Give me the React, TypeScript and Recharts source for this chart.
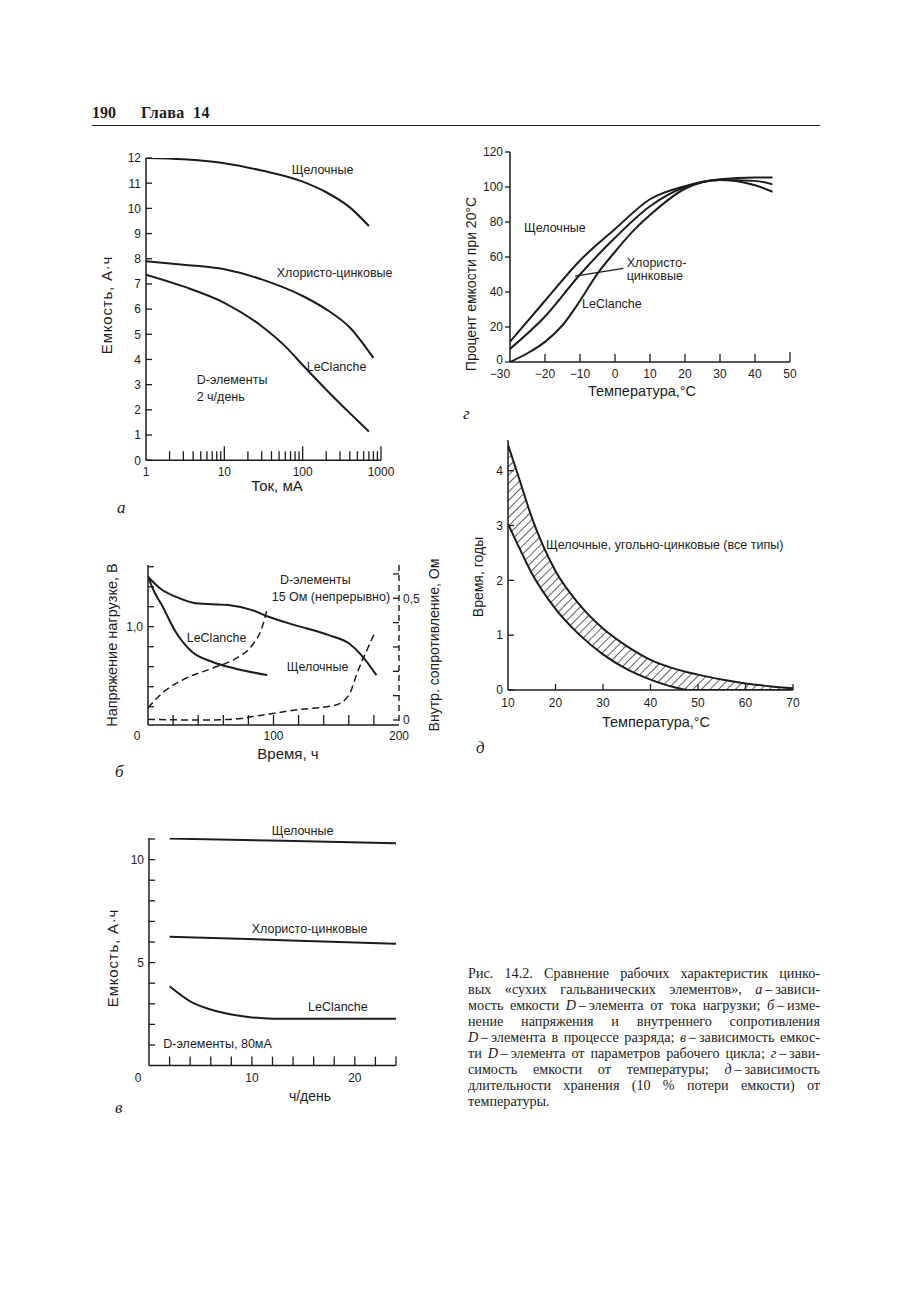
import React from "react";
import {
  LineChart,
  ComposedChart,
  Line,
  Area,
  XAxis,
  YAxis,
  ReferenceLine,
} from "recharts";

const INK = "#1c1c1c";
const SANS = "'Liberation Sans', Arial, sans-serif";
const SERIF = "'Liberation Serif', 'Times New Roman', serif";

// а — емкость D-элемента от тока нагрузки (лог. шкала)
const aCurrentAlk = [1, 3, 10, 30, 100, 200, 400, 700];
const aCapAlk = [12, 11.95, 11.79, 11.5, 11.06, 10.64, 10.04, 9.3];
const aCurrentZnCl = [1, 3, 10, 30, 100, 200, 400, 800];
const aCapZnCl = [7.9, 7.76, 7.58, 7.18, 6.52, 5.99, 5.27, 4.06];
const aCurrentLec = [1, 3, 10, 30, 60, 100, 200, 400, 700];
const aCapLec = [7.37, 6.9, 6.25, 5.32, 4.52, 3.78, 2.8, 1.87, 1.14];
const aTicksX = [1, 2, 3, 4, 5, 6, 7, 8, 9, 10, 20, 30, 40, 50, 60, 70, 80, 90, 100, 200, 300, 400, 500, 600, 700, 800, 900, 1000];
const aLabelsX = [1, 10, 100, 1000];
const aTicksY = [0, 1, 2, 3, 4, 5, 6, 7, 8, 9, 10, 11, 12];

// б — напряжение и внутреннее сопротивление при разряде
const bTimeAlkV = [0, 10, 22, 38, 64, 83, 96, 117, 144, 160, 170, 182];
const bVoltAlk = [1.25, 1.19, 1.15, 1.117, 1.108, 1.083, 1.05, 1.008, 0.958, 0.917, 0.858, 0.758];
const bTimeLecV = [0, 5, 11, 22, 35, 51, 70, 95];
const bVoltLec = [1.25, 1.175, 1.108, 0.975, 0.875, 0.825, 0.79, 0.758];
const bTimeLecR = [0, 11, 30, 51, 70, 83, 91, 95];
const bResLec = [0.05, 0.109, 0.171, 0.212, 0.253, 0.307, 0.382, 0.458];
const bTimeAlkR = [0, 40, 64, 91, 117, 149, 160, 167, 175, 181];
const bResAlk = [0.003, 0, 0.002, 0.02, 0.041, 0.061, 0.102, 0.198, 0.294, 0.362];
const bTicksX = [0, 20, 40, 60, 80, 100, 120, 140, 160, 180, 200];
const bLabelsX = [0, 100, 200];
const bTicksL = [0.6, 0.7, 0.8, 0.9, 1.0, 1.1, 1.2, 1.3];
const bTicksR = [0, 0.1, 0.2, 0.3, 0.4, 0.5, 0.6];

// в — емкость от параметров рабочего цикла
const vHoursAlk = [2, 13, 24];
const vCapAlk = [11.02, 10.92, 10.79];
const vHoursZnCl = [2, 13, 24];
const vCapZnCl = [6.26, 6.09, 5.91];
const vHoursLec = [2, 4, 6, 8, 10, 12, 16, 20, 24];
const vCapLec = [3.85, 3.12, 2.72, 2.48, 2.34, 2.28, 2.27, 2.27, 2.27];
const vTicksX = [0, 2, 4, 6, 8, 10, 12, 14, 16, 18, 20, 22, 24];
const vLabelsX = [0, 10, 20];
const vTicksY = [1, 2, 3, 4, 5, 6, 7, 8, 9, 10, 11];
const vLabelsY = [5, 10];

// г — емкость от температуры
const gTempAlk = [-30, -20, -10, 0, 10, 20, 30, 40, 45];
const gPctAlk = [11.6, 35, 58, 76, 93, 100.5, 104.5, 105.5, 105.5];
const gTempZnCl = [-30, -20, -10, 0, 10, 20, 30, 40, 45];
const gPctZnCl = [7.5, 26, 50, 71, 89, 100, 104, 103.5, 101.5];
const gTempLec = [-30, -25, -20, -15, -10, -5, 0, 5, 10, 20, 30, 40, 45];
const gPctLec = [0, 5, 11.5, 21, 35, 50.5, 63, 74.5, 84, 99, 104, 101, 97.3];
const gTicksX = [-30, -20, -10, 0, 10, 20, 30, 40, 50];
const gTicksY = [0, 20, 40, 60, 80, 100, 120];
const gLeader = [{ x: -11.4, y: 49.1 }, { x: 2.4, y: 53.5 }];

// д — длительность хранения от температуры
const dTemp = [10, 12, 15, 20, 25, 30, 35, 40, 45, 48, 50, 55, 60, 65, 70];
const dUpper = [4.47, 3.95, 3.15, 2.17, 1.56, 1.12, 0.8, 0.55, 0.39, 0.32, 0.28, 0.19, 0.12, 0.07, 0.03];
const dLower = [3.03, 2.66, 2.13, 1.48, 1.01, 0.65, 0.38, 0.19, 0.05, 0, 0, 0, 0, 0, 0];
const dTicksX = [10, 20, 30, 40, 50, 60, 70];
const dTicksY = [0, 1, 2, 3, 4];

const pts = (xs: number[], ys: number[]) => xs.map((x, i) => ({ x, y: ys[i] }));
const comma = (v: number) => String(v).replace(".", ",");

const YW = 40;
const MT = 10;
const XH = 30;
const MR = 20;
const frame = (pl: number, pt: number, pr: number, pb: number, rw = 0) => ({
  left: pl - YW,
  top: pt - MT,
  width: pr - pl + YW + MR + rw,
  height: pb - pt + MT + XH,
});

function XTick(props: any) {
  const { x, y, payload, len = 8, lab, shift, ly = 11 } = props;
  const v = payload.value;
  const h = typeof len === "function" ? len(v) : len;
  const text = lab ? lab(v) : String(v);
  const dx = shift ? shift(v) : 0;
  return (
    <g>
      {h > 0 && <line x1={x} x2={x} y1={y} y2={y - h} stroke={INK} strokeWidth={1.3} />}
      {text !== "" && (
        <text x={x + dx} y={y + ly} dy="0.36em" textAnchor="middle" fontSize={12} fontFamily={SANS} fill={INK}>
          {text}
        </text>
      )}
    </g>
  );
}

function YTick(props: any) {
  const { x, y, payload, len = 6, side = 1, lab, ty = 0 } = props;
  const v = payload.value;
  const text = lab ? lab(v) : String(v);
  const gap = side < 0 ? len + 2 : 5;
  const dy = typeof ty === "function" ? ty(v) : ty;
  return (
    <g>
      <line x1={x} x2={x + side * len} y1={y} y2={y} stroke={INK} strokeWidth={1.3} />
      {text !== "" && (
        <text x={x - gap} y={y + dy} dy="0.36em" textAnchor="end" fontSize={12} fontFamily={SANS} fill={INK}>
          {text}
        </text>
      )}
    </g>
  );
}

function RTick(props: any) {
  const { x, y, payload, len = 6, lab } = props;
  const v = payload.value;
  const text = lab ? lab(v) : String(v);
  return (
    <g>
      <line x1={x} x2={x - len} y1={y} y2={y} stroke={INK} strokeWidth={1.3} />
      {text !== "" && (
        <text x={x + 4} y={y} dy="0.36em" textAnchor="start" fontSize={12} fontFamily={SANS} fill={INK}>
          {text}
        </text>
      )}
    </g>
  );
}

function Txt({ x, y, children, size = 12.5, anchor = "start", rot = false, italic = false, serif = false, bold = false, spacing = 0 }: any) {
  const transform = rot
    ? "translate(-50%,-50%) rotate(-90deg)"
    : `translate(${anchor === "middle" ? "-50%" : "0"},-50%)`;
  return (
    <div
      style={{
        position: "absolute",
        left: x,
        top: y,
        transform,
        whiteSpace: "nowrap",
        fontSize: size,
        lineHeight: 1,
        fontFamily: serif ? SERIF : SANS,
        fontStyle: italic ? "italic" : "normal",
        fontWeight: bold ? "bold" : "normal",
        letterSpacing: spacing,
        color: INK,
      }}
    >
      {children}
    </div>
  );
}

const axisLine = { stroke: INK, strokeWidth: 1.5 };
const lineProps = {
  type: "monotone" as const,
  dataKey: "y",
  dot: false,
  stroke: INK,
  strokeWidth: 2,
  isAnimationActive: false,
};

function ChartA() {
  const f = frame(146, 158.3, 381, 460.5);
  return (
    <div style={{ position: "absolute", left: f.left, top: f.top }}>
      <LineChart width={f.width} height={f.height} margin={{ top: MT, right: MR, left: 0, bottom: 0 }}>
        <XAxis
          type="number"
          dataKey="x"
          scale="log"
          domain={[1, 1000]}
          allowDataOverflow
          ticks={aTicksX}
          interval={0}
          height={XH}
          axisLine={axisLine}
          tickLine={false}
          tickSize={0}
          tickMargin={0}
          tick={<XTick len={(v: number) => (v === 1 ? 0 : aLabelsX.includes(v) ? 14 : 9)} lab={(v: number) => (aLabelsX.includes(v) ? String(v) : "")} />}
        />
        <YAxis
          type="number"
          domain={[0, 12]}
          allowDataOverflow
          ticks={aTicksY}
          interval={0}
          width={YW}
          axisLine={axisLine}
          tickLine={false}
          tickSize={0}
          tickMargin={0}
          tick={<YTick len={6} />}
        />
        <Line {...lineProps} data={pts(aCurrentAlk, aCapAlk)} />
        <Line {...lineProps} data={pts(aCurrentZnCl, aCapZnCl)} />
        <Line {...lineProps} data={pts(aCurrentLec, aCapLec)} />
      </LineChart>
    </div>
  );
}

function ChartB() {
  const f = frame(147.7, 565, 398.7, 725, 40);
  return (
    <div style={{ position: "absolute", left: f.left, top: f.top }}>
      <LineChart width={f.width} height={f.height} margin={{ top: MT, right: MR, left: 0, bottom: 0 }}>
        <XAxis
          type="number"
          dataKey="x"
          domain={[0, 200]}
          allowDataOverflow
          ticks={bTicksX}
          interval={0}
          height={XH}
          axisLine={axisLine}
          tickLine={false}
          tickSize={0}
          tickMargin={0}
          tick={<XTick len={(v: number) => (v === 0 || v === 200 ? 0 : 10)} lab={(v: number) => (bLabelsX.includes(v) ? String(v) : "")} shift={(v: number) => (v === 0 ? -11 : 0)} ly={11} />}
        />
        <YAxis
          yAxisId="l"
          type="number"
          domain={[0.5085, 1.3085]}
          allowDataOverflow
          ticks={bTicksL}
          interval={0}
          width={YW}
          axisLine={axisLine}
          tickLine={false}
          tickSize={0}
          tickMargin={0}
          tick={<YTick len={6} lab={(v: number) => (v === 1 ? "1,0" : "")} />}
        />
        <YAxis
          yAxisId="r"
          orientation="right"
          type="number"
          domain={[-0.0205, 0.6368]}
          allowDataOverflow
          ticks={bTicksR}
          interval={0}
          width={40}
          axisLine={{ stroke: INK, strokeWidth: 1.4, strokeDasharray: "6 4" }}
          tickLine={false}
          tickSize={0}
          tickMargin={0}
          tick={<RTick len={6} lab={(v: number) => (v === 0 || v === 0.5 ? comma(v) : "")} />}
        />
        <Line {...lineProps} yAxisId="l" data={pts(bTimeAlkV, bVoltAlk)} />
        <Line {...lineProps} yAxisId="l" data={pts(bTimeLecV, bVoltLec)} />
        <Line {...lineProps} yAxisId="r" strokeWidth={1.5} strokeDasharray="7 4" data={pts(bTimeLecR, bResLec)} />
        <Line {...lineProps} yAxisId="r" strokeWidth={1.5} strokeDasharray="7 4" data={pts(bTimeAlkR, bResAlk)} />
      </LineChart>
    </div>
  );
}

function ChartV() {
  const f = frame(149, 838.4, 396, 1066);
  return (
    <div style={{ position: "absolute", left: f.left, top: f.top }}>
      <LineChart width={f.width} height={f.height} margin={{ top: MT, right: MR, left: 0, bottom: 0 }}>
        <XAxis
          type="number"
          dataKey="x"
          domain={[0, 24]}
          allowDataOverflow
          ticks={vTicksX}
          interval={0}
          height={XH}
          axisLine={axisLine}
          tickLine={false}
          tickSize={0}
          tickMargin={0}
          tick={<XTick len={(v: number) => (v === 0 ? 0 : 9)} lab={(v: number) => (vLabelsX.includes(v) ? String(v) : "")} shift={(v: number) => (v === 0 ? -11 : 0)} ly={12} />}
        />
        <YAxis
          type="number"
          domain={[0, 11.05]}
          allowDataOverflow
          ticks={vTicksY}
          interval={0}
          width={YW}
          axisLine={axisLine}
          tickLine={false}
          tickSize={0}
          tickMargin={0}
          tick={<YTick len={6} lab={(v: number) => (vLabelsY.includes(v) ? String(v) : "")} />}
        />
        <Line {...lineProps} data={pts(vHoursAlk, vCapAlk)} />
        <Line {...lineProps} data={pts(vHoursZnCl, vCapZnCl)} />
        <Line {...lineProps} data={pts(vHoursLec, vCapLec)} />
      </LineChart>
    </div>
  );
}

function ChartG() {
  const f = frame(510, 152, 790, 362);
  return (
    <div style={{ position: "absolute", left: f.left, top: f.top }}>
      <LineChart width={f.width} height={f.height} margin={{ top: MT, right: MR, left: 0, bottom: 0 }}>
        <XAxis
          type="number"
          dataKey="x"
          domain={[-30, 50]}
          allowDataOverflow
          ticks={gTicksX}
          interval={0}
          height={XH}
          axisLine={axisLine}
          tickLine={false}
          tickSize={0}
          tickMargin={0}
          tick={<XTick len={(v: number) => (v === -30 ? 0 : v === 50 ? 10 : 8)} lab={(v: number) => (v < 0 ? "−" + Math.abs(v) : String(v))} shift={(v: number) => (v === -30 ? -10 : 0)} ly={12} />}
        />
        <YAxis
          type="number"
          domain={[0, 120]}
          allowDataOverflow
          ticks={gTicksY}
          interval={0}
          width={YW}
          axisLine={axisLine}
          tickLine={false}
          tickSize={0}
          tickMargin={0}
          tick={<YTick len={5} side={-1} ty={(v: number) => (v === 0 ? -2 : 0)} />}
        />
        <Line {...lineProps} data={pts(gTempAlk, gPctAlk)} />
        <Line {...lineProps} data={pts(gTempZnCl, gPctZnCl)} />
        <Line {...lineProps} data={pts(gTempLec, gPctLec)} />
        <ReferenceLine segment={gLeader} stroke={INK} strokeWidth={1.2} ifOverflow="visible" />
      </LineChart>
    </div>
  );
}

function ChartD() {
  const f = frame(508.3, 440, 793.3, 690);
  const data = dTemp.map((x, i) => ({ x, lo: dLower[i], hi: dUpper[i], band: [dLower[i], dUpper[i]] }));
  return (
    <div style={{ position: "absolute", left: f.left, top: f.top }}>
      <ComposedChart width={f.width} height={f.height} data={data} margin={{ top: MT, right: MR, left: 0, bottom: 0 }}>
        <defs>
          <pattern id="hatch" width="6" height="6" patternUnits="userSpaceOnUse" patternTransform="rotate(45)">
            <line x1="0" y1="0" x2="0" y2="6" stroke={INK} strokeWidth={1.4} />
          </pattern>
        </defs>
        <XAxis
          type="number"
          dataKey="x"
          domain={[10, 70]}
          allowDataOverflow
          ticks={dTicksX}
          interval={0}
          height={XH}
          axisLine={axisLine}
          tickLine={false}
          tickSize={0}
          tickMargin={0}
          tick={<XTick len={(v: number) => (v === 10 ? 0 : 6)} ly={13} />}
        />
        <YAxis
          type="number"
          domain={[0, 4.56]}
          allowDataOverflow
          ticks={dTicksY}
          interval={0}
          width={YW}
          axisLine={axisLine}
          tickLine={false}
          tickSize={0}
          tickMargin={0}
          tick={<YTick len={6} />}
        />
        <Area type="monotone" dataKey="band" stroke="none" fill="url(#hatch)" fillOpacity={1} isAnimationActive={false} />
        <Line {...lineProps} dataKey="hi" />
        <Line {...lineProps} dataKey="lo" />
      </ComposedChart>
    </div>
  );
}

const DASH = "\u2009–\u2009";
const captionLines = [
  <>Рис. 14.2. Сравнение рабочих характеристик цинко-</>,
  <>вых «сухих гальванических элементов», <i>а</i>{DASH}зависи-</>,
  <>мость емкости <i>D</i>{DASH}элемента от тока нагрузки; <i>б</i>{DASH}изме-</>,
  <>нение напряжения и внутреннего сопротивления</>,
  <><i>D</i>{DASH}элемента в процессе разряда; <i>в</i>{DASH}зависимость емкос-</>,
  <>ти <i>D</i>{DASH}элемента от параметров рабочего цикла; <i>г</i>{DASH}зави-</>,
  <>симость емкости от температуры; <i>д</i>{DASH}зависимость</>,
  <>длительности хранения (10 % потери емкости) от</>,
  <>температуры.</>,
];

export default function App() {
  return (
    <div style={{ position: "absolute", left: 0, top: 0, width: 913, height: 1300, background: "#fff", overflow: "hidden" }}>
      {/* колонтитул */}
      <Txt x={92} y={113} size={16} serif bold>190</Txt>
      <Txt x={141} y={113} size={16} serif bold spacing={0.3}>Глава&nbsp;&nbsp;14</Txt>
      <div style={{ position: "absolute", left: 92, top: 124.5, width: 728, height: 1.2, background: INK }} />

      <ChartA />
      <ChartB />
      <ChartV />
      <ChartG />
      <ChartD />

      {/* а */}
      <Txt x={291.7} y={169.5}>Щелочные</Txt>
      <Txt x={276.7} y={272.7}>Хлористо-цинковые</Txt>
      <Txt x={306.7} y={366.7}>LeClanche</Txt>
      <Txt x={196.7} y={380}>D-элементы</Txt>
      <Txt x={196.7} y={396.7}>2 ч/день</Txt>
      <Txt x={277} y={485} size={15} anchor="middle">Ток, мА</Txt>
      <Txt x={106} y={305} size={15} rot spacing={0.8}>Емкость, А·ч</Txt>
      <Txt x={117} y={507} size={17} serif italic>а</Txt>

      {/* б */}
      <Txt x={280} y={580}>D-элементы</Txt>
      <Txt x={271.7} y={596.7}>15 Ом (непрерывно)</Txt>
      <Txt x={186.7} y={638.3}>LeClanche</Txt>
      <Txt x={286.7} y={666.7}>Щелочные</Txt>
      <Txt x={288} y={753} size={15} anchor="middle">Время, ч</Txt>
      <Txt x={112} y={645} size={14.5} rot>Напряжение нагрузке, В</Txt>
      <Txt x={434} y={645} size={14} rot>Внутр. сопротивление, Ом</Txt>
      <Txt x={115} y={771} size={17} serif italic>б</Txt>

      {/* в */}
      <Txt x={271.7} y={830.7}>Щелочные</Txt>
      <Txt x={251.7} y={929.3}>Хлористо-цинковые</Txt>
      <Txt x={308} y={1007.3}>LeClanche</Txt>
      <Txt x={163.3} y={1044}>D-элементы, 80мА</Txt>
      <Txt x={310} y={1095.5} size={14} anchor="middle">ч/день</Txt>
      <Txt x={112} y={958} size={15} rot spacing={0.8}>Емкость, А·ч</Txt>
      <Txt x={115} y={1107} size={17} serif italic>в</Txt>

      {/* г */}
      <Txt x={524} y={228.3}>Щелочные</Txt>
      <Txt x={626.7} y={263.3}>Хлористо-</Txt>
      <Txt x={626.7} y={276}>цинковые</Txt>
      <Txt x={582} y={304}>LeClanche</Txt>
      <Txt x={642} y={391} size={14.5} anchor="middle">Температура,°С</Txt>
      <Txt x={471} y={284} size={14} rot>Процент емкости при 20°С</Txt>
      <Txt x={463} y={413} size={17} serif italic>г</Txt>

      {/* д */}
      <Txt x={546} y={545}>Щелочные, угольно-цинковые (все типы)</Txt>
      <Txt x={656} y={722} size={14.5} anchor="middle">Температура,°С</Txt>
      <Txt x={478} y={577} size={14} rot>Время, годы</Txt>
      <Txt x={476} y={747} size={17} serif italic>д</Txt>

      {/* подпись */}
      {captionLines.map((ln, i) => (
        <div
          key={i}
          style={{
            position: "absolute",
            left: 468,
            top: 972.5 + i * 16.1,
            width: 352,
            transform: "translateY(-50%)",
            fontFamily: SERIF,
            fontSize: 14.2,
            lineHeight: 1,
            color: INK,
            whiteSpace: "nowrap",
            textAlign: "justify",
            textAlignLast: i < captionLines.length - 1 ? "justify" : "left",
          }}
        >
          {ln}
        </div>
      ))}
    </div>
  );
}
